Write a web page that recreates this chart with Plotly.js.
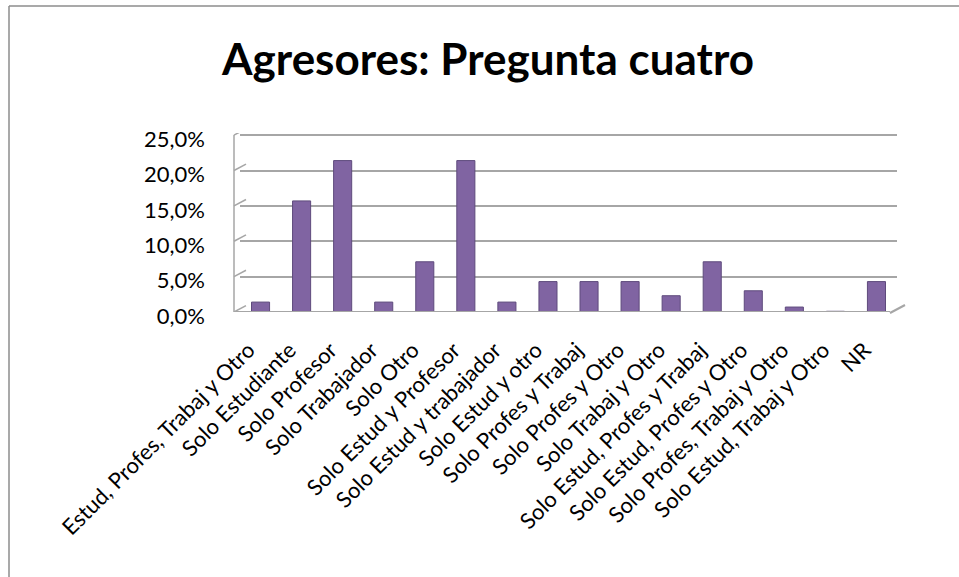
<!DOCTYPE html>
<html>
<head>
<meta charset="utf-8">
<script src="https://cdn.plot.ly/plotly-3.0.1.min.js"></script>
<style>
  html, body { margin: 0; padding: 0; background: #ffffff; }
  #chart { width: 959px; height: 577px; }
</style>
</head>
<body>
<div id="chart"></div>
<script>
const categories = [
  "Estud, Profes, Trabaj y Otro",
  "Solo Estudiante",
  "Solo Profesor",
  "Solo Trabajador",
  "Solo Otro",
  "Solo Estud y Profesor",
  "Solo Estud y trabajador",
  "Solo Estud y otro",
  "Solo Profes y Trabaj",
  "Solo Profes y Otro",
  "Solo Trabaj y Otro",
  "Solo Estud, Profes y Trabaj",
  "Solo Estud, Profes y Otro",
  "Solo Profes, Trabaj y Otro",
  "Solo Estud, Trabaj y Otro",
  "NR"
];
const percentages = [1.4, 15.7, 21.4, 1.4, 7.1, 21.4, 1.4, 4.3, 4.3, 4.3, 2.3, 7.1, 3.0, 0.7, 0.1, 4.3];
const yTickValues = [0, 5, 10, 15, 20, 25];
const yTickLabels = ["0,0%", "5,0%", "10,0%", "15,0%", "20,0%", "25,0%"];

const W = 959, H = 577;
const M = { l: 240, r: 62, t: 133, b: 265 };
const pw = W - M.l - M.r, ph = H - M.t - M.b;
const px = x => (x - M.l) / pw;          // pixel -> paper x
const py = y => (H - M.b - y) / ph;      // pixel -> paper y

const shapes = [
  // outer chart frame (left and top edges visible)
  { type: 'line', xref: 'paper', yref: 'paper', x0: px(9), x1: px(9), y0: py(6), y1: py(580),
    line: { color: '#8c8c8c', width: 1.5 } },
  { type: 'line', xref: 'paper', yref: 'paper', x0: px(9), x1: px(962), y0: py(6), y1: py(6),
    line: { color: '#8c8c8c', width: 1.5 } },
  // side wall vertical edge
  { type: 'line', xref: 'paper', yref: 'y', x0: px(234), x1: px(234), y0: 0, y1: 25,
    line: { color: '#a6a6a6', width: 1.5 } },
  // floor front edge and right edge
  { type: 'line', xref: 'paper', yref: 'y', x0: px(234), x1: px(890), y0: 0, y1: 0,
    line: { color: '#a6a6a6', width: 2 } },
  { type: 'line', xref: 'paper', yref: 'paper', x0: px(890), x1: px(905), y0: py(313), y1: py(305),
    line: { color: '#a6a6a6', width: 2 } }
];
// diagonal stubs on the side wall for each grid level
yTickValues.forEach(v => {
  shapes.push({ type: 'line', xref: 'paper', yref: 'y', x0: px(234), x1: px(246), y0: v, y1: v + 0.9,
    line: { color: '#a6a6a6', width: 1.5 } });
});

const trace = {
  type: 'bar',
  x: categories,
  y: percentages,
  marker: { color: '#8064a2', line: { color: '#5e4a7c', width: 1 } },
  hoverinfo: 'x+y'
};

const layout = {
  width: W, height: H,
  margin: M,
  paper_bgcolor: '#ffffff',
  plot_bgcolor: '#ffffff',
  showlegend: false,
  bargap: 0.56,
  title: {
    text: '<b>Agresores: Pregunta cuatro</b>',
    x: 488 / W, xanchor: 'center', xref: 'container',
    y: 1 - 60 / H, yanchor: 'middle', yref: 'container',
    font: { family: 'Lato, "Open Sans", sans-serif', size: 44, color: '#000000' }
  },
  xaxis: {
    type: 'category',
    tickangle: -45,
    tickfont: { family: 'Lato, "Open Sans", sans-serif', size: 22, color: '#000000' },
    showgrid: false, zeroline: false, showline: false,
    ticks: '', ticklabelstandoff: 20, ticklabelshift: -12
  },
  yaxis: {
    range: [0, 25.3],
    tickvals: yTickValues,
    ticktext: yTickLabels,
    tickfont: { family: 'Lato, "Open Sans", sans-serif', size: 22, color: '#000000' },
    showgrid: true, gridcolor: '#a6a6a6', gridwidth: 2,
    zeroline: false, showline: false, ticks: '',
    ticklabelstandoff: 34, ticklabelshift: 4
  },
  shapes: shapes
};

Plotly.newPlot('chart', [trace], layout, { displayModeBar: false, staticPlot: true });
</script>
</body>
</html>
